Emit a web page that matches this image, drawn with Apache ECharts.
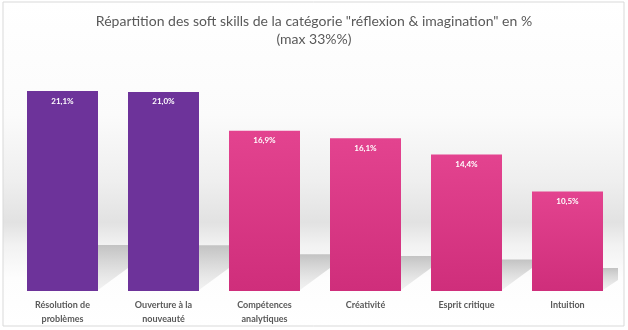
<!DOCTYPE html>
<html><head><meta charset="utf-8">
<script src="https://cdn.jsdelivr.net/npm/echarts@6/dist/echarts.min.js"></script>
<style>html,body{margin:0;padding:0;background:#fff}#c{width:628px;height:330px}</style>
</head><body><div id="c"></div>
<script>
const categories = ["Résolution de\nproblèmes", "Ouverture à la\nnouveauté", "Compétences\nanalytiques", "Créativité", "Esprit critique", "Intuition"];
const values = [21.1, 21.0, 16.9, 16.1, 14.4, 10.5];
const colorGroup = ["purple", "purple", "pink", "pink", "pink", "pink"];

const purple = '#6D339A';
const pinkGrad = {type:'linear',x:0,y:0,x2:0,y2:1,colorStops:[{offset:0,color:'#E3438F'},{offset:1,color:'#CF2E7B'}]};

const chart = echarts.init(document.getElementById('c'), null, {renderer:'canvas'});
const fontFam = 'Lato, "Open Sans", sans-serif';
chart.setOption({
  animation:false,
  backgroundColor:'#ffffff',
  graphic:[
    {type:'rect', z:-10, shape:{x:3,y:2,width:621,height:324},
     style:{fill:{type:'linear',x:0,y:0,x2:0,y2:1,colorStops:[
       {offset:0,color:'#ffffff'},{offset:0.35,color:'#fbfbfb'},{offset:0.55,color:'#efefef'},
       {offset:0.68,color:'#e2e2e2'},{offset:0.75,color:'#f2f2f2'},{offset:0.85,color:'#fdfdfd'},{offset:1,color:'#ffffff'}]},
       stroke:'#d9d9d9', lineWidth:1}}
  ],
  title:{
    text:'Répartition des soft skills de la catégorie "réflexion & imagination" en %\n(max 33%%)',
    left:'center', top:7,
    textStyle:{fontFamily:fontFam, fontSize:14, fontWeight:'normal', color:'#595959', lineHeight:18}
  },
  grid:{left:12, right:10, top:54, bottom:39},
  xAxis:{type:'category', data:categories,
    axisLine:{show:false}, axisTick:{show:false},
    axisLabel:{fontFamily:fontFam, fontSize:9, fontWeight:'bold', color:'#595959', lineHeight:14, margin:7, interval:0}},
  yAxis:{type:'value', min:0, max:25, show:false, splitLine:{show:false}},
  series:[
    {type:'custom', z:1, silent:true, clip:true,
     data: values.map((v,i)=>[i,v]),
     renderItem:function(params, api){
       const p = api.coord([api.value(0), 0]);
       const t = api.coord([api.value(0), api.value(1)]);
       const h = p[1] - t[1];
       const bw = api.size([1,0])[0]*0.703;
       const xr = p[0] + bw/2;
       const base = p[1];
       const sh = 0.23*h, sw = 30;
       const dy = Math.min(sw*0.73, sh-3);
       return {type:'polygon', shape:{points:[[xr, base-1],[xr, base-sh],[xr+sw, base-sh],[xr+sw, base-1-dy]]},
         style:{fill:{type:'linear',x:0,y:0,x2:0,y2:1,colorStops:[{offset:0,color:'rgba(192,192,192,0.95)'},{offset:1,color:'rgba(225,225,225,0.4)'}]}}};
     }},
    {type:'bar', z:2, barWidth:71,
     data: values.map((v,i)=>({value:v, itemStyle:{color: colorGroup[i]==='purple'?purple:pinkGrad}})),
     label:{show:true, position:'insideTop', distance:6, formatter:p=>p.value.toFixed(1).replace('.',',')+'%',
       color:'#ffffff', fontFamily:fontFam, fontSize:8, fontWeight:'bold'}}
  ]
});
</script></body></html>
